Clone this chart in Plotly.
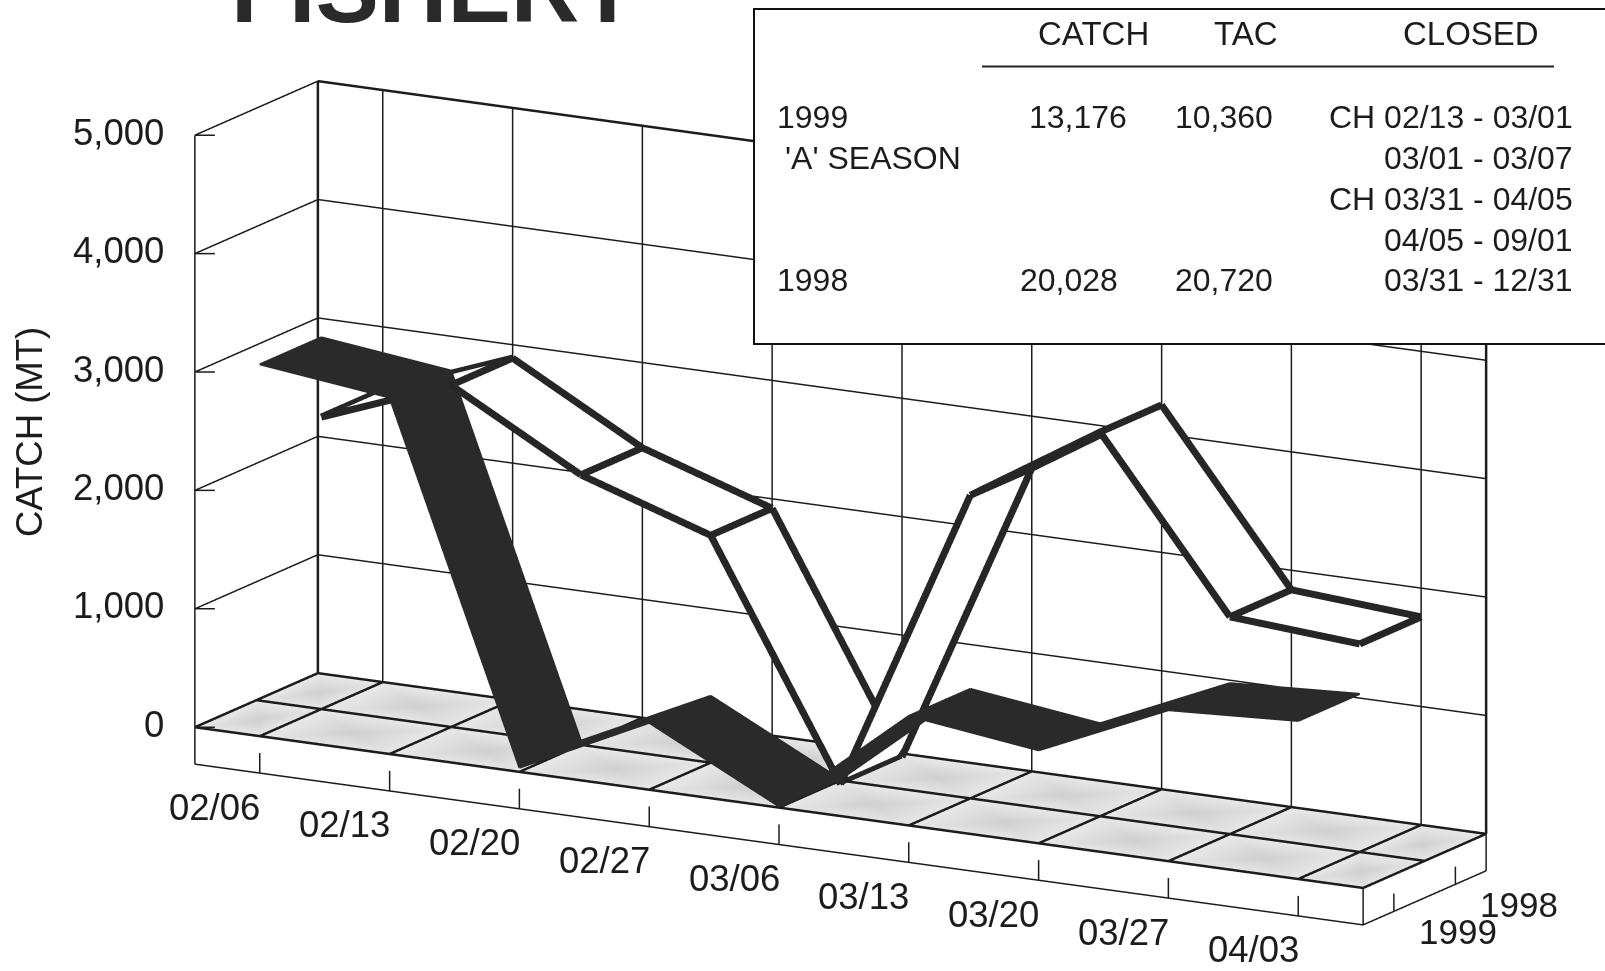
import math
import plotly.graph_objects as go

dates = ["02/06","02/13","02/20","02/27","03/06","03/13","03/20","03/27","04/03"]
years = ["1999","1998"]
catch_1999 = [3140,3010,35,565,10,925,785,1275,1335]
catch_1998 = [2466,2887,2280,1920,-30,2560,3245,1835,1757]
z_ticks = [0,1000,2000,3000,4000,5000]
z_labels = ["0","1,000","2,000","3,000","4,000","5,000"]
FONT = "Liberation Sans"
INK = "#1c1c1c"
Z_BASE = -312
Z_TOP = 5000
X0, X1 = -0.5, 8.5
PAD_X, PAD_Y, PAD_Z = 0.3, 0.3, 200
n = len(dates)
SCALE = 2.136
UNIT = (1.339*SCALE/9, 0.252*SCALE/2, 0.611*SCALE/5000)
ASPECT = dict(x=UNIT[0]*(9+2*PAD_X), y=UNIT[1]*(2+2*PAD_Y), z=UNIT[2]*(Z_TOP-Z_BASE+2*PAD_Z))
TH, PH = math.radians(14.24), math.atan2(-0.8725,0.488)
VIEW = (math.cos(TH)*math.cos(PH), math.cos(TH)*math.sin(PH), math.sin(TH))
EPS = 0.03
LIFT = (EPS*VIEW[0]/UNIT[0], EPS*VIEW[1]/UNIT[1], EPS*VIEW[2]/UNIT[2])

def seg(store, a, b):
    store[0] += [a[0], b[0], None]
    store[1] += [a[1], b[1], None]
    store[2] += [a[2], b[2], None]

thin = [[], [], []]
med = [[], [], []]
for z in z_ticks[1:]:
    seg(thin, (X0,0,z), (X0,2,z))
    seg(thin if z < Z_TOP else med, (X0,2,z), (X1,2,z))
for z in z_ticks:
    seg(thin, (X0,0,z), (X0+0.117,0.078,z))
for t in range(n):
    seg(thin, (t,2,0), (t,2,Z_TOP))
    seg(thin, (t,0,Z_BASE), (t,0,Z_BASE+170))
seg(thin, (X0,0,Z_BASE), (X0,0,Z_TOP))
seg(med, (X0,2,0), (X0,2,Z_TOP))
seg(med, (X1,2,0), (X1,2,Z_TOP))
seg(thin, (X0,0,Z_BASE), (X1,0,Z_BASE))
seg(thin, (X1,0,Z_BASE), (X1,2,Z_BASE))
seg(thin, (X1,0,Z_BASE), (X1,0,0))
seg(thin, (X1,2,Z_BASE), (X1,2,0))
for d in (0.5, 1.5):
    seg(thin, (X1,d,Z_BASE), (X1,d,Z_BASE+150))
for d in (0,1,2):
    seg(med, (X0,d,0), (X1,d,0))
seg(med, (X0,0,0), (X0,2,0))
seg(med, (X1,0,0), (X1,2,0))
for t in range(n):
    seg(med, (t,0,0), (t,2,0))

def ribbon(values, d0, d1, color):
    xs, ys, zs, i, j, k = [], [], [], [], [], []
    for t, v in enumerate(values):
        xs += [t, t]; ys += [d0, d1]; zs += [v, v]
    for t in range(len(values)-1):
        a = 2*t
        i += [a, a+1]; j += [a+1, a+3]; k += [a+2, a+2]
    return go.Mesh3d(x=xs, y=ys, z=zs, i=i, j=j, k=k, color=color, flatshading=True,
                     lighting=dict(ambient=1, diffuse=0, specular=0, fresnel=0, roughness=1),
                     hoverinfo="skip", showscale=False)

def outline(values, d0, d1, eps=1.0):
    out = [[], [], []]
    def p(t, d):
        return (t+LIFT[0]*eps, d+LIFT[1]*eps, values[t]+LIFT[2]*eps)
    for t in range(n):
        seg(out, p(t,d0), p(t,d1))
    for t in range(n-1):
        for d in (d0, d1):
            seg(out, p(t,d), p(t+1,d))
    return out

def lines(store, width, color=INK):
    return go.Scatter3d(x=store[0], y=store[1], z=store[2], mode="lines",
                        line=dict(color=color, width=width), hoverinfo="skip", showlegend=False)

# floor: each cell shaded lighter at the corners, darker in the middle
fx, fy, fz, fc, fi, fj, fk = [], [], [], [], [], [], []
bx = [X0] + list(range(n)) + [X1]
for a, b in zip(bx[:-1], bx[1:]):
    for d in (0, 1):
        base = len(fx)
        fx += [a, b, b, a, (a+b)/2]
        fy += [d, d, d+1, d+1, d+.5]
        fz += [-12]*5
        fc += ["#e8e8e8"]*4 + ["#d0d0d0"]
        for q in range(4):
            fi.append(base+q); fj.append(base+(q+1) % 4); fk.append(base+4)
floor = go.Mesh3d(x=fx, y=fy, z=fz, i=fi, j=fj, k=fk, vertexcolor=fc,
                  lighting=dict(ambient=1, diffuse=0, specular=0, fresnel=0), hoverinfo="skip")

fig = go.Figure([floor, lines(thin,3), lines(med,5),
                 ribbon(catch_1998,1.0,2.0,"#ffffff"), lines(outline(catch_1998,1.0,2.0),14,"#262626"),
                 ribbon(catch_1999,0.0,1.0,"#2a2a2a"), lines(outline(catch_1999,0.0,1.0,1.5),4,"#2a2a2a")])

scene_notes = []
for t, lab in enumerate(dates):
    scene_notes.append(dict(x=t,y=0,z=Z_BASE,text=lab,showarrow=False,xshift=-45,yshift=-34,
                            font=dict(family=FONT,size=36.5,color=INK)))
for d, lab in zip((0.5,1.5),years):
    scene_notes.append(dict(x=X1,y=d,z=Z_BASE,text=lab,showarrow=False,xshift=64,yshift=-20,
                            font=dict(family=FONT,size=35,color=INK)))
for z, lab in zip(z_ticks,z_labels):
    scene_notes.append(dict(x=X0,y=0,z=z,text=lab,showarrow=False,xanchor="right",xshift=-29,yshift=3,
                            font=dict(family=FONT,size=36.5,color=INK)))

D = 8
eye = dict(x=D*VIEW[0], y=D*VIEW[1], z=D*VIEW[2])
hidden = dict(visible=False)
fig.update_layout(
    width=1605, height=971, margin=dict(l=0,r=0,t=0,b=0), autosize=False,
    paper_bgcolor="white", showlegend=False,
    scene=dict(
        domain=dict(x=[76/1605,1], y=[0,936/971]),
        xaxis=dict(hidden, range=[X0-PAD_X,X1+PAD_X]), yaxis=dict(hidden, range=[-PAD_Y,2+PAD_Y]),
        zaxis=dict(hidden, range=[Z_BASE-PAD_Z,Z_TOP+PAD_Z]),
        aspectmode="manual", aspectratio=ASPECT,
        camera=dict(eye=eye, up=dict(x=0,y=0,z=1), center=dict(x=0,y=0,z=0),
                    projection=dict(type="orthographic")),
        annotations=scene_notes),
)

def px(x, y, text, size=32, anchor="left", weight=None, color=INK, **kw):
    fig.add_annotation(xref="paper", yref="paper", x=x/1605, y=1-y/971, text=text, showarrow=False,
                       xanchor=anchor, yanchor="middle",
                       font=dict(family=FONT,size=size,color=color,weight=weight or 400), **kw)

fig.add_shape(type="rect", xref="paper", yref="paper", x0=754/1605, x1=1.01, y0=1-344/971, y1=1-9/971,
              fillcolor="white", line=dict(color="#111",width=2))
fig.add_shape(type="line", xref="paper", yref="paper", x0=982/1605, x1=1554/1605, y0=1-66.5/971, y1=1-66.5/971,
              line=dict(color="#222",width=2))
px(435, -11, "FISHERY", 95, "center", 700, "#2a2a2a")
px(29, 432, "CATCH (MT)", 36.5, "center", textangle=-90)
px(1093, 34, "CATCH", 33, anchor="center")
px(1246, 34, "TAC", 33, anchor="center")
px(1471, 34, "CLOSED", 33, anchor="center")
rows = [(117,"1999","13,176","10,360","CH 02/13 - 03/01"),
        (158,"'A' SEASON","","","03/01 - 03/07"),
        (199,"","","","CH 03/31 - 04/05"),
        (240,"","","","04/05 - 09/01"),
        (280,"1998","20,028","20,720","03/31 - 12/31")]
for y,a,b,c,d in rows:
    if a: px(783 if a[0]=="'" else 775, y, a)
    if b: px(1129 if a=="1999" else 1120, y, b, anchor="right")
    if c: px(1275, y, c, anchor="right")
    px(1575, y, d, anchor="right")

fig.write_html("out.html", config=dict(displayModeBar=False),
               post_script="document.body.style.margin='0';document.documentElement.style.overflow='hidden';")
